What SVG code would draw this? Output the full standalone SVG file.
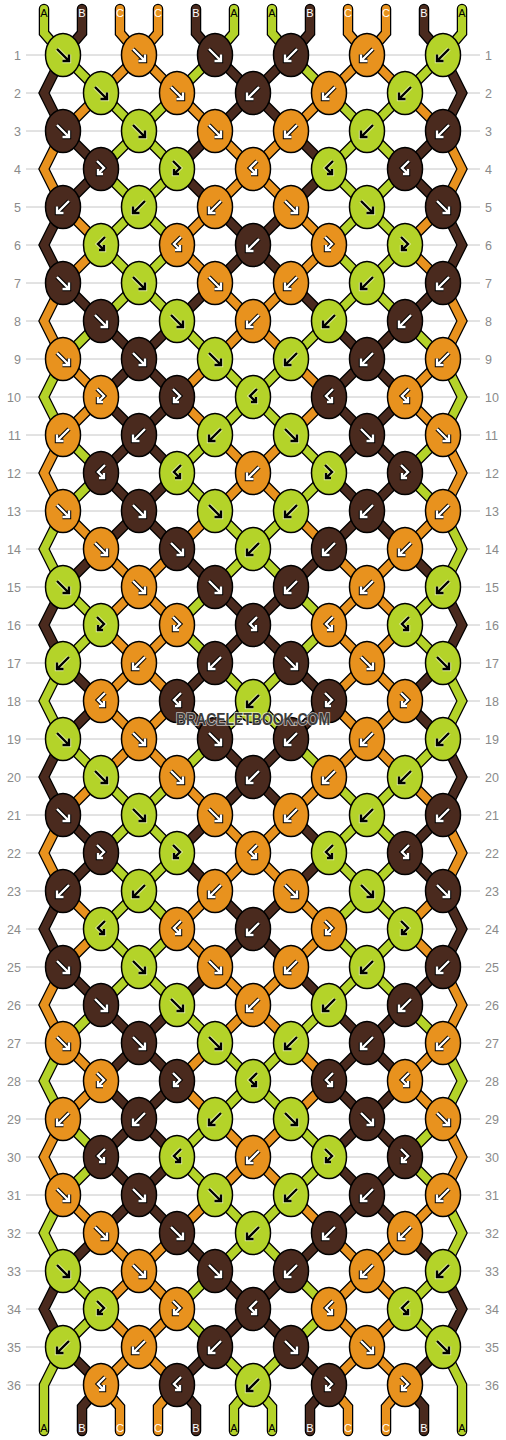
<svg xmlns="http://www.w3.org/2000/svg" xmlns:xlink="http://www.w3.org/1999/xlink" width="506" height="1440" viewBox="0 0 506 1440">
<style>
.A{fill:#b4d329}.B{fill:#4a2a1e}.C{fill:#e8921e}
.go{stroke:#000;stroke-width:4.4}.gw{stroke:#fff;stroke-width:2.4}
.gl{stroke:#fff;stroke-width:4.4;stroke-opacity:.55}.gk{stroke:#000;stroke-width:2.4}
.num{font-family:"Liberation Sans",Arial,sans-serif;font-size:12.5px;fill:#8a8a8a}
.rl{text-anchor:end}.rr{text-anchor:start}
.lab{font-family:"Liberation Sans",Arial,sans-serif;font-size:11px;text-anchor:middle}
.lk{fill:#000}.lw{fill:#fff}
</style>
<defs>
<ellipse id="e" rx="17.5" ry="21.5" stroke="#000" stroke-width="1.5"/>
<path id="gf" d="M-6-6L6 6M-0.5 6H6V-0.5" fill="none"/>
<path id="gb" d="M6-6L-6 6M0.5 6H-6V-0.5" fill="none"/>
<path id="gfb" d="M-4-8L3-1L-3 5M-3 0V5H2" fill="none"/>
<path id="gbf" d="M4-8L-3-1L3 5M3 0V5H-2" fill="none"/>
<g id="fW"><use href="#gf" class="go"/><use href="#gf" class="gw"/></g>
<g id="bW"><use href="#gb" class="go"/><use href="#gb" class="gw"/></g>
<g id="fbW"><use href="#gfb" class="go"/><use href="#gfb" class="gw"/></g>
<g id="bfW"><use href="#gbf" class="go"/><use href="#gbf" class="gw"/></g>
<g id="fK"><use href="#gf" class="gl"/><use href="#gf" class="gk"/></g>
<g id="bK"><use href="#gb" class="gl"/><use href="#gb" class="gk"/></g>
<g id="fbK"><use href="#gfb" class="gl"/><use href="#gfb" class="gk"/></g>
<g id="bfK"><use href="#gbf" class="gl"/><use href="#gbf" class="gk"/></g>
<path id="bA" d="M63 55L101 93M215 55L177 93M101 93L139 131M177 93L139 131M139 131L101 169M139 131L177 169M101 169L139 207M177 169L139 207M139 207L101 245M139 207L177 245M101 245L139 283M177 245L139 283M139 283L101 321M139 283L177 321M101 321L63 359M177 321L215 359M215 359L253 397M253 397L215 435M63 435L101 473M215 435L177 473M101 473L63 511M177 473L215 511M215 511L253 549M253 549L215 587M63 587L101 625M215 587L177 625M101 625L63 663M177 625L215 663M215 663L253 701M63 359L44 397L63 435M63 511L44 549L63 587"/>
<path id="bB" d="M215 55L253 93M253 93L215 131M63 131L101 169M215 131L177 169M101 169L63 207M177 169L215 207M215 207L253 245M253 245L215 283M63 283L101 321M215 283L177 321M101 321L139 359M177 321L139 359M139 359L101 397M139 359L177 397M101 397L139 435M177 397L139 435M139 435L101 473M139 435L177 473M101 473L139 511M177 473L139 511M139 511L101 549M139 511L177 549M101 549L63 587M177 549L215 587M215 587L253 625M253 625L215 663M63 663L101 701M215 663L177 701M63 55L44 93L63 131M63 207L44 245L63 283M63 587L44 625L63 663"/>
<path id="bC" d="M139 55L101 93M139 55L177 93M101 93L63 131M177 93L215 131M215 131L253 169M253 169L215 207M63 207L101 245M215 207L177 245M101 245L63 283M177 245L215 283M215 283L253 321M253 321L215 359M63 359L101 397M215 359L177 397M101 397L63 435M177 397L215 435M215 435L253 473M253 473L215 511M63 511L101 549M215 511L177 549M101 549L139 587M177 549L139 587M139 587L101 625M139 587L177 625M101 625L139 663M177 625L139 663M139 663L101 701M139 663L177 701M63 131L44 169L63 207M63 283L44 321L63 359M63 435L44 473L63 511"/>
<path id="xA" d="M44 9L44 33L63 55M234 9L234 33L215 55M253 701L215 739M63 663L44 701L63 739M63 1347L44 1385L44 1431M253 1385L234 1407L234 1431"/>
<path id="xB" d="M82 9L82 33L63 55M196 9L196 33L215 55M101 701L63 739M177 701L215 739M101 1385L82 1407L82 1431M177 1385L196 1407L196 1431"/>
<path id="xC" d="M120 9L120 33L139 55M158 9L158 33L139 55M101 701L139 739M177 701L139 739M101 1385L120 1407L120 1431M177 1385L158 1407L158 1431"/>
</defs>
<rect width="506" height="1440" fill="#fff"/>
<g id="grid">
<path stroke="#c6c6c6" stroke-width="1" fill="none" d="M26 55H480M26 93H480M26 131H480M26 169H480M26 207H480M26 245H480M26 283H480M26 321H480M26 359H480M26 397H480M26 435H480M26 473H480M26 511H480M26 549H480M26 587H480M26 625H480M26 663H480M26 701H480M26 739H480M26 777H480M26 815H480M26 853H480M26 891H480M26 929H480M26 967H480M26 1005H480M26 1043H480M26 1081H480M26 1119H480M26 1157H480M26 1195H480M26 1233H480M26 1271H480M26 1309H480M26 1347H480M26 1385H480"/>
</g>
<g id="rownumbers" class="num">
<text class="rl" x="21" y="59.5">1</text><text class="rl" x="21" y="97.5">2</text><text class="rl" x="21" y="135.5">3</text><text class="rl" x="21" y="173.5">4</text><text class="rl" x="21" y="211.5">5</text><text class="rl" x="21" y="249.5">6</text><text class="rl" x="21" y="287.5">7</text><text class="rl" x="21" y="325.5">8</text><text class="rl" x="21" y="363.5">9</text><text class="rl" x="21" y="401.5">10</text><text class="rl" x="21" y="439.5">11</text><text class="rl" x="21" y="477.5">12</text><text class="rl" x="21" y="515.5">13</text><text class="rl" x="21" y="553.5">14</text><text class="rl" x="21" y="591.5">15</text><text class="rl" x="21" y="629.5">16</text><text class="rl" x="21" y="667.5">17</text><text class="rl" x="21" y="705.5">18</text><text class="rl" x="21" y="743.5">19</text><text class="rl" x="21" y="781.5">20</text><text class="rl" x="21" y="819.5">21</text><text class="rl" x="21" y="857.5">22</text><text class="rl" x="21" y="895.5">23</text><text class="rl" x="21" y="933.5">24</text><text class="rl" x="21" y="971.5">25</text><text class="rl" x="21" y="1009.5">26</text><text class="rl" x="21" y="1047.5">27</text><text class="rl" x="21" y="1085.5">28</text><text class="rl" x="21" y="1123.5">29</text><text class="rl" x="21" y="1161.5">30</text><text class="rl" x="21" y="1199.5">31</text><text class="rl" x="21" y="1237.5">32</text><text class="rl" x="21" y="1275.5">33</text><text class="rl" x="21" y="1313.5">34</text><text class="rl" x="21" y="1351.5">35</text><text class="rl" x="21" y="1389.5">36</text>
<text class="rr" x="485" y="59.5">1</text><text class="rr" x="485" y="97.5">2</text><text class="rr" x="485" y="135.5">3</text><text class="rr" x="485" y="173.5">4</text><text class="rr" x="485" y="211.5">5</text><text class="rr" x="485" y="249.5">6</text><text class="rr" x="485" y="287.5">7</text><text class="rr" x="485" y="325.5">8</text><text class="rr" x="485" y="363.5">9</text><text class="rr" x="485" y="401.5">10</text><text class="rr" x="485" y="439.5">11</text><text class="rr" x="485" y="477.5">12</text><text class="rr" x="485" y="515.5">13</text><text class="rr" x="485" y="553.5">14</text><text class="rr" x="485" y="591.5">15</text><text class="rr" x="485" y="629.5">16</text><text class="rr" x="485" y="667.5">17</text><text class="rr" x="485" y="705.5">18</text><text class="rr" x="485" y="743.5">19</text><text class="rr" x="485" y="781.5">20</text><text class="rr" x="485" y="819.5">21</text><text class="rr" x="485" y="857.5">22</text><text class="rr" x="485" y="895.5">23</text><text class="rr" x="485" y="933.5">24</text><text class="rr" x="485" y="971.5">25</text><text class="rr" x="485" y="1009.5">26</text><text class="rr" x="485" y="1047.5">27</text><text class="rr" x="485" y="1085.5">28</text><text class="rr" x="485" y="1123.5">29</text><text class="rr" x="485" y="1161.5">30</text><text class="rr" x="485" y="1199.5">31</text><text class="rr" x="485" y="1237.5">32</text><text class="rr" x="485" y="1275.5">33</text><text class="rr" x="485" y="1313.5">34</text><text class="rr" x="485" y="1351.5">35</text><text class="rr" x="485" y="1389.5">36</text>
</g>
<g id="connectors" fill="none" stroke-linecap="round" stroke-linejoin="miter">
<g id="half">
<g stroke="#000" stroke-width="10.5"><use href="#bA"/><use href="#bA" y="684"/><use href="#xA"/><use href="#bB"/><use href="#bB" y="684"/><use href="#xB"/><use href="#bC"/><use href="#bC" y="684"/><use href="#xC"/></g>
<g stroke-width="8">
<g stroke="#b4d329"><use href="#bA"/><use href="#bA" y="684"/><use href="#xA"/></g>
<g stroke="#4a2a1e"><use href="#bB"/><use href="#bB" y="684"/><use href="#xB"/></g>
<g stroke="#e8921e"><use href="#bC"/><use href="#bC" y="684"/><use href="#xC"/></g>
</g>
</g>
<use href="#half" transform="matrix(-1 0 0 1 506 0)"/>
</g>
<g id="labels" class="lab">
<text class="lk" x="44" y="16.5">A</text><text class="lw" x="82" y="16.5">B</text><text class="lw" x="120" y="16.5">C</text><text class="lw" x="158" y="16.5">C</text><text class="lw" x="196" y="16.5">B</text><text class="lk" x="234" y="16.5">A</text><text class="lk" x="272" y="16.5">A</text><text class="lw" x="310" y="16.5">B</text><text class="lw" x="348" y="16.5">C</text><text class="lw" x="386" y="16.5">C</text><text class="lw" x="424" y="16.5">B</text><text class="lk" x="462" y="16.5">A</text>
<text class="lk" x="44" y="1432">A</text><text class="lw" x="82" y="1432">B</text><text class="lw" x="120" y="1432">C</text><text class="lw" x="158" y="1432">C</text><text class="lw" x="196" y="1432">B</text><text class="lk" x="234" y="1432">A</text><text class="lk" x="272" y="1432">A</text><text class="lw" x="310" y="1432">B</text><text class="lw" x="348" y="1432">C</text><text class="lw" x="386" y="1432">C</text><text class="lw" x="424" y="1432">B</text><text class="lk" x="462" y="1432">A</text>
</g>
<g id="knots">
<g id="n1_1" class="A" transform="translate(63,55)"><use href="#e"/><use href="#fK"/></g>
<g id="n1_2" class="C" transform="translate(139,55)"><use href="#e"/><use href="#fW"/></g>
<g id="n1_3" class="B" transform="translate(215,55)"><use href="#e"/><use href="#fW"/></g>
<g id="n1_4" class="B" transform="translate(291,55)"><use href="#e"/><use href="#bW"/></g>
<g id="n1_5" class="C" transform="translate(367,55)"><use href="#e"/><use href="#bW"/></g>
<g id="n1_6" class="A" transform="translate(443,55)"><use href="#e"/><use href="#bK"/></g>
<g id="n2_1" class="A" transform="translate(101,93)"><use href="#e"/><use href="#fK"/></g>
<g id="n2_2" class="C" transform="translate(177,93)"><use href="#e"/><use href="#fW"/></g>
<g id="n2_3" class="B" transform="translate(253,93)"><use href="#e"/><use href="#bW"/></g>
<g id="n2_4" class="C" transform="translate(329,93)"><use href="#e"/><use href="#bW"/></g>
<g id="n2_5" class="A" transform="translate(405,93)"><use href="#e"/><use href="#bK"/></g>
<g id="n3_1" class="B" transform="translate(63,131)"><use href="#e"/><use href="#fW"/></g>
<g id="n3_2" class="A" transform="translate(139,131)"><use href="#e"/><use href="#fK"/></g>
<g id="n3_3" class="C" transform="translate(215,131)"><use href="#e"/><use href="#fW"/></g>
<g id="n3_4" class="C" transform="translate(291,131)"><use href="#e"/><use href="#bW"/></g>
<g id="n3_5" class="A" transform="translate(367,131)"><use href="#e"/><use href="#bK"/></g>
<g id="n3_6" class="B" transform="translate(443,131)"><use href="#e"/><use href="#bW"/></g>
<g id="n4_1" class="B" transform="translate(101,169)"><use href="#e"/><use href="#fbW"/></g>
<g id="n4_2" class="A" transform="translate(177,169)"><use href="#e"/><use href="#fbK"/></g>
<g id="n4_3" class="C" transform="translate(253,169)"><use href="#e"/><use href="#bfW"/></g>
<g id="n4_4" class="A" transform="translate(329,169)"><use href="#e"/><use href="#bfK"/></g>
<g id="n4_5" class="B" transform="translate(405,169)"><use href="#e"/><use href="#bfW"/></g>
<g id="n5_1" class="B" transform="translate(63,207)"><use href="#e"/><use href="#bW"/></g>
<g id="n5_2" class="A" transform="translate(139,207)"><use href="#e"/><use href="#bK"/></g>
<g id="n5_3" class="C" transform="translate(215,207)"><use href="#e"/><use href="#bW"/></g>
<g id="n5_4" class="C" transform="translate(291,207)"><use href="#e"/><use href="#fW"/></g>
<g id="n5_5" class="A" transform="translate(367,207)"><use href="#e"/><use href="#fK"/></g>
<g id="n5_6" class="B" transform="translate(443,207)"><use href="#e"/><use href="#fW"/></g>
<g id="n6_1" class="A" transform="translate(101,245)"><use href="#e"/><use href="#bfK"/></g>
<g id="n6_2" class="C" transform="translate(177,245)"><use href="#e"/><use href="#bfW"/></g>
<g id="n6_3" class="B" transform="translate(253,245)"><use href="#e"/><use href="#bW"/></g>
<g id="n6_4" class="C" transform="translate(329,245)"><use href="#e"/><use href="#fbW"/></g>
<g id="n6_5" class="A" transform="translate(405,245)"><use href="#e"/><use href="#fbK"/></g>
<g id="n7_1" class="B" transform="translate(63,283)"><use href="#e"/><use href="#fW"/></g>
<g id="n7_2" class="A" transform="translate(139,283)"><use href="#e"/><use href="#fK"/></g>
<g id="n7_3" class="C" transform="translate(215,283)"><use href="#e"/><use href="#fW"/></g>
<g id="n7_4" class="C" transform="translate(291,283)"><use href="#e"/><use href="#bW"/></g>
<g id="n7_5" class="A" transform="translate(367,283)"><use href="#e"/><use href="#bK"/></g>
<g id="n7_6" class="B" transform="translate(443,283)"><use href="#e"/><use href="#bW"/></g>
<g id="n8_1" class="B" transform="translate(101,321)"><use href="#e"/><use href="#fW"/></g>
<g id="n8_2" class="A" transform="translate(177,321)"><use href="#e"/><use href="#fK"/></g>
<g id="n8_3" class="C" transform="translate(253,321)"><use href="#e"/><use href="#bW"/></g>
<g id="n8_4" class="A" transform="translate(329,321)"><use href="#e"/><use href="#bK"/></g>
<g id="n8_5" class="B" transform="translate(405,321)"><use href="#e"/><use href="#bW"/></g>
<g id="n9_1" class="C" transform="translate(63,359)"><use href="#e"/><use href="#fW"/></g>
<g id="n9_2" class="B" transform="translate(139,359)"><use href="#e"/><use href="#fW"/></g>
<g id="n9_3" class="A" transform="translate(215,359)"><use href="#e"/><use href="#fK"/></g>
<g id="n9_4" class="A" transform="translate(291,359)"><use href="#e"/><use href="#bK"/></g>
<g id="n9_5" class="B" transform="translate(367,359)"><use href="#e"/><use href="#bW"/></g>
<g id="n9_6" class="C" transform="translate(443,359)"><use href="#e"/><use href="#bW"/></g>
<g id="n10_1" class="C" transform="translate(101,397)"><use href="#e"/><use href="#fbW"/></g>
<g id="n10_2" class="B" transform="translate(177,397)"><use href="#e"/><use href="#fbW"/></g>
<g id="n10_3" class="A" transform="translate(253,397)"><use href="#e"/><use href="#bfK"/></g>
<g id="n10_4" class="B" transform="translate(329,397)"><use href="#e"/><use href="#bfW"/></g>
<g id="n10_5" class="C" transform="translate(405,397)"><use href="#e"/><use href="#bfW"/></g>
<g id="n11_1" class="C" transform="translate(63,435)"><use href="#e"/><use href="#bW"/></g>
<g id="n11_2" class="B" transform="translate(139,435)"><use href="#e"/><use href="#bW"/></g>
<g id="n11_3" class="A" transform="translate(215,435)"><use href="#e"/><use href="#bK"/></g>
<g id="n11_4" class="A" transform="translate(291,435)"><use href="#e"/><use href="#fK"/></g>
<g id="n11_5" class="B" transform="translate(367,435)"><use href="#e"/><use href="#fW"/></g>
<g id="n11_6" class="C" transform="translate(443,435)"><use href="#e"/><use href="#fW"/></g>
<g id="n12_1" class="B" transform="translate(101,473)"><use href="#e"/><use href="#bfW"/></g>
<g id="n12_2" class="A" transform="translate(177,473)"><use href="#e"/><use href="#bfK"/></g>
<g id="n12_3" class="C" transform="translate(253,473)"><use href="#e"/><use href="#bW"/></g>
<g id="n12_4" class="A" transform="translate(329,473)"><use href="#e"/><use href="#fbK"/></g>
<g id="n12_5" class="B" transform="translate(405,473)"><use href="#e"/><use href="#fbW"/></g>
<g id="n13_1" class="C" transform="translate(63,511)"><use href="#e"/><use href="#fW"/></g>
<g id="n13_2" class="B" transform="translate(139,511)"><use href="#e"/><use href="#fW"/></g>
<g id="n13_3" class="A" transform="translate(215,511)"><use href="#e"/><use href="#fK"/></g>
<g id="n13_4" class="A" transform="translate(291,511)"><use href="#e"/><use href="#bK"/></g>
<g id="n13_5" class="B" transform="translate(367,511)"><use href="#e"/><use href="#bW"/></g>
<g id="n13_6" class="C" transform="translate(443,511)"><use href="#e"/><use href="#bW"/></g>
<g id="n14_1" class="C" transform="translate(101,549)"><use href="#e"/><use href="#fW"/></g>
<g id="n14_2" class="B" transform="translate(177,549)"><use href="#e"/><use href="#fW"/></g>
<g id="n14_3" class="A" transform="translate(253,549)"><use href="#e"/><use href="#bK"/></g>
<g id="n14_4" class="B" transform="translate(329,549)"><use href="#e"/><use href="#bW"/></g>
<g id="n14_5" class="C" transform="translate(405,549)"><use href="#e"/><use href="#bW"/></g>
<g id="n15_1" class="A" transform="translate(63,587)"><use href="#e"/><use href="#fK"/></g>
<g id="n15_2" class="C" transform="translate(139,587)"><use href="#e"/><use href="#fW"/></g>
<g id="n15_3" class="B" transform="translate(215,587)"><use href="#e"/><use href="#fW"/></g>
<g id="n15_4" class="B" transform="translate(291,587)"><use href="#e"/><use href="#bW"/></g>
<g id="n15_5" class="C" transform="translate(367,587)"><use href="#e"/><use href="#bW"/></g>
<g id="n15_6" class="A" transform="translate(443,587)"><use href="#e"/><use href="#bK"/></g>
<g id="n16_1" class="A" transform="translate(101,625)"><use href="#e"/><use href="#fbK"/></g>
<g id="n16_2" class="C" transform="translate(177,625)"><use href="#e"/><use href="#fbW"/></g>
<g id="n16_3" class="B" transform="translate(253,625)"><use href="#e"/><use href="#bfW"/></g>
<g id="n16_4" class="C" transform="translate(329,625)"><use href="#e"/><use href="#bfW"/></g>
<g id="n16_5" class="A" transform="translate(405,625)"><use href="#e"/><use href="#bfK"/></g>
<g id="n17_1" class="A" transform="translate(63,663)"><use href="#e"/><use href="#bK"/></g>
<g id="n17_2" class="C" transform="translate(139,663)"><use href="#e"/><use href="#bW"/></g>
<g id="n17_3" class="B" transform="translate(215,663)"><use href="#e"/><use href="#bW"/></g>
<g id="n17_4" class="B" transform="translate(291,663)"><use href="#e"/><use href="#fW"/></g>
<g id="n17_5" class="C" transform="translate(367,663)"><use href="#e"/><use href="#fW"/></g>
<g id="n17_6" class="A" transform="translate(443,663)"><use href="#e"/><use href="#fK"/></g>
<g id="n18_1" class="C" transform="translate(101,701)"><use href="#e"/><use href="#bfW"/></g>
<g id="n18_2" class="B" transform="translate(177,701)"><use href="#e"/><use href="#bfW"/></g>
<g id="n18_3" class="A" transform="translate(253,701)"><use href="#e"/><use href="#bK"/></g>
<g id="n18_4" class="B" transform="translate(329,701)"><use href="#e"/><use href="#fbW"/></g>
<g id="n18_5" class="C" transform="translate(405,701)"><use href="#e"/><use href="#fbW"/></g>
<g id="n19_1" class="A" transform="translate(63,739)"><use href="#e"/><use href="#fK"/></g>
<g id="n19_2" class="C" transform="translate(139,739)"><use href="#e"/><use href="#fW"/></g>
<g id="n19_3" class="B" transform="translate(215,739)"><use href="#e"/><use href="#fW"/></g>
<g id="n19_4" class="B" transform="translate(291,739)"><use href="#e"/><use href="#bW"/></g>
<g id="n19_5" class="C" transform="translate(367,739)"><use href="#e"/><use href="#bW"/></g>
<g id="n19_6" class="A" transform="translate(443,739)"><use href="#e"/><use href="#bK"/></g>
<g id="n20_1" class="A" transform="translate(101,777)"><use href="#e"/><use href="#fK"/></g>
<g id="n20_2" class="C" transform="translate(177,777)"><use href="#e"/><use href="#fW"/></g>
<g id="n20_3" class="B" transform="translate(253,777)"><use href="#e"/><use href="#bW"/></g>
<g id="n20_4" class="C" transform="translate(329,777)"><use href="#e"/><use href="#bW"/></g>
<g id="n20_5" class="A" transform="translate(405,777)"><use href="#e"/><use href="#bK"/></g>
<g id="n21_1" class="B" transform="translate(63,815)"><use href="#e"/><use href="#fW"/></g>
<g id="n21_2" class="A" transform="translate(139,815)"><use href="#e"/><use href="#fK"/></g>
<g id="n21_3" class="C" transform="translate(215,815)"><use href="#e"/><use href="#fW"/></g>
<g id="n21_4" class="C" transform="translate(291,815)"><use href="#e"/><use href="#bW"/></g>
<g id="n21_5" class="A" transform="translate(367,815)"><use href="#e"/><use href="#bK"/></g>
<g id="n21_6" class="B" transform="translate(443,815)"><use href="#e"/><use href="#bW"/></g>
<g id="n22_1" class="B" transform="translate(101,853)"><use href="#e"/><use href="#fbW"/></g>
<g id="n22_2" class="A" transform="translate(177,853)"><use href="#e"/><use href="#fbK"/></g>
<g id="n22_3" class="C" transform="translate(253,853)"><use href="#e"/><use href="#bfW"/></g>
<g id="n22_4" class="A" transform="translate(329,853)"><use href="#e"/><use href="#bfK"/></g>
<g id="n22_5" class="B" transform="translate(405,853)"><use href="#e"/><use href="#bfW"/></g>
<g id="n23_1" class="B" transform="translate(63,891)"><use href="#e"/><use href="#bW"/></g>
<g id="n23_2" class="A" transform="translate(139,891)"><use href="#e"/><use href="#bK"/></g>
<g id="n23_3" class="C" transform="translate(215,891)"><use href="#e"/><use href="#bW"/></g>
<g id="n23_4" class="C" transform="translate(291,891)"><use href="#e"/><use href="#fW"/></g>
<g id="n23_5" class="A" transform="translate(367,891)"><use href="#e"/><use href="#fK"/></g>
<g id="n23_6" class="B" transform="translate(443,891)"><use href="#e"/><use href="#fW"/></g>
<g id="n24_1" class="A" transform="translate(101,929)"><use href="#e"/><use href="#bfK"/></g>
<g id="n24_2" class="C" transform="translate(177,929)"><use href="#e"/><use href="#bfW"/></g>
<g id="n24_3" class="B" transform="translate(253,929)"><use href="#e"/><use href="#bW"/></g>
<g id="n24_4" class="C" transform="translate(329,929)"><use href="#e"/><use href="#fbW"/></g>
<g id="n24_5" class="A" transform="translate(405,929)"><use href="#e"/><use href="#fbK"/></g>
<g id="n25_1" class="B" transform="translate(63,967)"><use href="#e"/><use href="#fW"/></g>
<g id="n25_2" class="A" transform="translate(139,967)"><use href="#e"/><use href="#fK"/></g>
<g id="n25_3" class="C" transform="translate(215,967)"><use href="#e"/><use href="#fW"/></g>
<g id="n25_4" class="C" transform="translate(291,967)"><use href="#e"/><use href="#bW"/></g>
<g id="n25_5" class="A" transform="translate(367,967)"><use href="#e"/><use href="#bK"/></g>
<g id="n25_6" class="B" transform="translate(443,967)"><use href="#e"/><use href="#bW"/></g>
<g id="n26_1" class="B" transform="translate(101,1005)"><use href="#e"/><use href="#fW"/></g>
<g id="n26_2" class="A" transform="translate(177,1005)"><use href="#e"/><use href="#fK"/></g>
<g id="n26_3" class="C" transform="translate(253,1005)"><use href="#e"/><use href="#bW"/></g>
<g id="n26_4" class="A" transform="translate(329,1005)"><use href="#e"/><use href="#bK"/></g>
<g id="n26_5" class="B" transform="translate(405,1005)"><use href="#e"/><use href="#bW"/></g>
<g id="n27_1" class="C" transform="translate(63,1043)"><use href="#e"/><use href="#fW"/></g>
<g id="n27_2" class="B" transform="translate(139,1043)"><use href="#e"/><use href="#fW"/></g>
<g id="n27_3" class="A" transform="translate(215,1043)"><use href="#e"/><use href="#fK"/></g>
<g id="n27_4" class="A" transform="translate(291,1043)"><use href="#e"/><use href="#bK"/></g>
<g id="n27_5" class="B" transform="translate(367,1043)"><use href="#e"/><use href="#bW"/></g>
<g id="n27_6" class="C" transform="translate(443,1043)"><use href="#e"/><use href="#bW"/></g>
<g id="n28_1" class="C" transform="translate(101,1081)"><use href="#e"/><use href="#fbW"/></g>
<g id="n28_2" class="B" transform="translate(177,1081)"><use href="#e"/><use href="#fbW"/></g>
<g id="n28_3" class="A" transform="translate(253,1081)"><use href="#e"/><use href="#bfK"/></g>
<g id="n28_4" class="B" transform="translate(329,1081)"><use href="#e"/><use href="#bfW"/></g>
<g id="n28_5" class="C" transform="translate(405,1081)"><use href="#e"/><use href="#bfW"/></g>
<g id="n29_1" class="C" transform="translate(63,1119)"><use href="#e"/><use href="#bW"/></g>
<g id="n29_2" class="B" transform="translate(139,1119)"><use href="#e"/><use href="#bW"/></g>
<g id="n29_3" class="A" transform="translate(215,1119)"><use href="#e"/><use href="#bK"/></g>
<g id="n29_4" class="A" transform="translate(291,1119)"><use href="#e"/><use href="#fK"/></g>
<g id="n29_5" class="B" transform="translate(367,1119)"><use href="#e"/><use href="#fW"/></g>
<g id="n29_6" class="C" transform="translate(443,1119)"><use href="#e"/><use href="#fW"/></g>
<g id="n30_1" class="B" transform="translate(101,1157)"><use href="#e"/><use href="#bfW"/></g>
<g id="n30_2" class="A" transform="translate(177,1157)"><use href="#e"/><use href="#bfK"/></g>
<g id="n30_3" class="C" transform="translate(253,1157)"><use href="#e"/><use href="#bW"/></g>
<g id="n30_4" class="A" transform="translate(329,1157)"><use href="#e"/><use href="#fbK"/></g>
<g id="n30_5" class="B" transform="translate(405,1157)"><use href="#e"/><use href="#fbW"/></g>
<g id="n31_1" class="C" transform="translate(63,1195)"><use href="#e"/><use href="#fW"/></g>
<g id="n31_2" class="B" transform="translate(139,1195)"><use href="#e"/><use href="#fW"/></g>
<g id="n31_3" class="A" transform="translate(215,1195)"><use href="#e"/><use href="#fK"/></g>
<g id="n31_4" class="A" transform="translate(291,1195)"><use href="#e"/><use href="#bK"/></g>
<g id="n31_5" class="B" transform="translate(367,1195)"><use href="#e"/><use href="#bW"/></g>
<g id="n31_6" class="C" transform="translate(443,1195)"><use href="#e"/><use href="#bW"/></g>
<g id="n32_1" class="C" transform="translate(101,1233)"><use href="#e"/><use href="#fW"/></g>
<g id="n32_2" class="B" transform="translate(177,1233)"><use href="#e"/><use href="#fW"/></g>
<g id="n32_3" class="A" transform="translate(253,1233)"><use href="#e"/><use href="#bK"/></g>
<g id="n32_4" class="B" transform="translate(329,1233)"><use href="#e"/><use href="#bW"/></g>
<g id="n32_5" class="C" transform="translate(405,1233)"><use href="#e"/><use href="#bW"/></g>
<g id="n33_1" class="A" transform="translate(63,1271)"><use href="#e"/><use href="#fK"/></g>
<g id="n33_2" class="C" transform="translate(139,1271)"><use href="#e"/><use href="#fW"/></g>
<g id="n33_3" class="B" transform="translate(215,1271)"><use href="#e"/><use href="#fW"/></g>
<g id="n33_4" class="B" transform="translate(291,1271)"><use href="#e"/><use href="#bW"/></g>
<g id="n33_5" class="C" transform="translate(367,1271)"><use href="#e"/><use href="#bW"/></g>
<g id="n33_6" class="A" transform="translate(443,1271)"><use href="#e"/><use href="#bK"/></g>
<g id="n34_1" class="A" transform="translate(101,1309)"><use href="#e"/><use href="#fbK"/></g>
<g id="n34_2" class="C" transform="translate(177,1309)"><use href="#e"/><use href="#fbW"/></g>
<g id="n34_3" class="B" transform="translate(253,1309)"><use href="#e"/><use href="#bfW"/></g>
<g id="n34_4" class="C" transform="translate(329,1309)"><use href="#e"/><use href="#bfW"/></g>
<g id="n34_5" class="A" transform="translate(405,1309)"><use href="#e"/><use href="#bfK"/></g>
<g id="n35_1" class="A" transform="translate(63,1347)"><use href="#e"/><use href="#bK"/></g>
<g id="n35_2" class="C" transform="translate(139,1347)"><use href="#e"/><use href="#bW"/></g>
<g id="n35_3" class="B" transform="translate(215,1347)"><use href="#e"/><use href="#bW"/></g>
<g id="n35_4" class="B" transform="translate(291,1347)"><use href="#e"/><use href="#fW"/></g>
<g id="n35_5" class="C" transform="translate(367,1347)"><use href="#e"/><use href="#fW"/></g>
<g id="n35_6" class="A" transform="translate(443,1347)"><use href="#e"/><use href="#fK"/></g>
<g id="n36_1" class="C" transform="translate(101,1385)"><use href="#e"/><use href="#bfW"/></g>
<g id="n36_2" class="B" transform="translate(177,1385)"><use href="#e"/><use href="#bfW"/></g>
<g id="n36_3" class="A" transform="translate(253,1385)"><use href="#e"/><use href="#bK"/></g>
<g id="n36_4" class="B" transform="translate(329,1385)"><use href="#e"/><use href="#fbW"/></g>
<g id="n36_5" class="C" transform="translate(405,1385)"><use href="#e"/><use href="#fbW"/></g>
</g>
<text id="watermark" x="253" y="725" text-anchor="middle" font-family="'Liberation Sans',Arial,sans-serif" font-weight="bold" font-size="16" textLength="154" lengthAdjust="spacingAndGlyphs" fill="#3c3c3c" stroke="#ffffff" stroke-opacity="0.7" stroke-width="1.6" paint-order="stroke">BRACELETBOOK.COM</text>
</svg>
